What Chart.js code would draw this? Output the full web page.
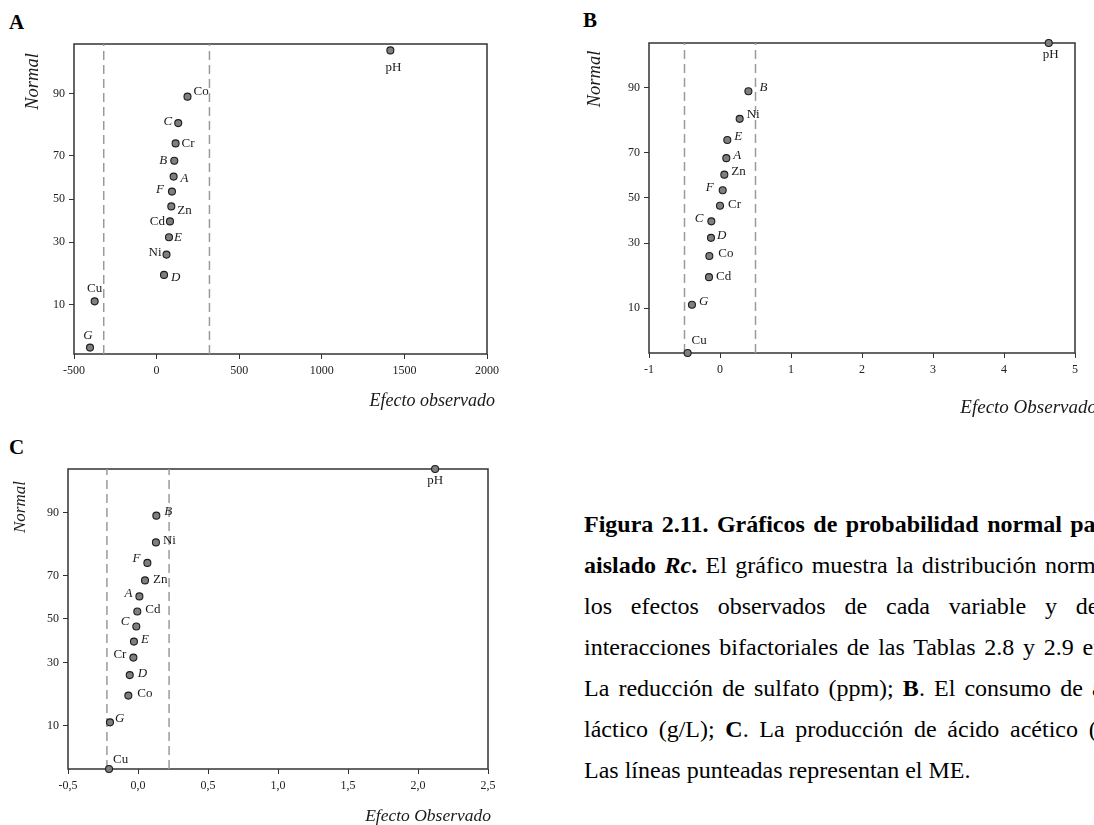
<!DOCTYPE html>
<html lang="es">
<head>
<meta charset="utf-8">
<title>Figura 2.11</title>
<script src="https://cdn.jsdelivr.net/npm/chart.js@4.4.1/dist/chart.umd.min.js"></script>
<style>
  html, body { margin: 0; padding: 0; background: #fff; width: 1094px; height: 825px; overflow: hidden; }
  body { position: relative; font-family: "Liberation Serif", "DejaVu Serif", serif; color: #000; }
  canvas { position: absolute; }
  .letra { position: absolute; font-weight: bold; font-size: 21px; line-height: 21px; }
  #leyenda { position: absolute; left: 584px; top: 504px; width: 560px; font-size: 24px; line-height: 41px; }
  #leyenda div { text-align: justify; text-align-last: justify; }
  #leyenda div.ultima { text-align-last: left; }
</style>
</head>
<body>
<div class="letra" style="left:9px;top:12px">A</div>
<div class="letra" style="left:583px;top:10px">B</div>
<div class="letra" style="left:9px;top:437px">C</div>

<canvas id="graficoA" width="540" height="430" style="left:0;top:0"></canvas>
<canvas id="graficoB" width="534" height="430" style="left:560px;top:0"></canvas>
<canvas id="graficoC" width="540" height="405" style="left:0;top:420px"></canvas>

<div id="leyenda">
  <div><b>Figura 2.11. Gráficos de probabilidad normal para el</b></div>
  <div><b>aislado <i>Rc</i>.</b> El gráfico muestra la distribución normal de</div>
  <div>los efectos observados de cada variable y de las</div>
  <div>interacciones bifactoriales de las Tablas 2.8 y 2.9 en: <b>A</b>.</div>
  <div>La reducción de sulfato (ppm); <b>B</b>. El consumo de ácido</div>
  <div>láctico (g/L); <b>C</b>. La producción de ácido acético (g/L).</div>
  <div class="ultima">Las líneas punteadas representan el ME.</div>
</div>

<script>
// posiciones de probabilidad normal (%) de los 14 efectos, de menor a mayor
var rankPct = [3.57, 10.71, 17.86, 25.0, 32.14, 39.29, 46.43, 53.57, 60.71, 67.86, 75.0, 82.14, 89.29, 96.43];
var yTickLabels = [10, 30, 50, 70, 90];

// A: reduccion de sulfato (ppm)
var namesA = ["G", "Cu", "D", "Ni", "E", "Cd", "Zn", "F", "A", "B", "Cr", "C", "Co", "pH"];
var effectA = [-403, -375, 45, 60, 75, 81, 89, 93, 103, 107, 115, 131, 187, 1415];
var meA = 320;
var xTicksA = [-500, 0, 500, 1000, 1500, 2000];

// B: consumo de acido lactico (g/L)
var namesB = ["Cu", "G", "Cd", "Co", "D", "C", "Cr", "F", "Zn", "A", "E", "Ni", "B", "pH"];
var effectB = [-0.456, -0.395, -0.155, -0.150, -0.127, -0.122, 0.0, 0.038, 0.061, 0.089, 0.103, 0.277, 0.40, 4.63];
var meB = 0.5;
var xTicksB = [-1, 0, 1, 2, 3, 4, 5];

// C: produccion de acido acetico (g/L)
var namesC = ["Cu", "G", "Co", "D", "Cr", "E", "C", "Cd", "A", "Zn", "F", "Ni", "B", "pH"];
var effectC = [-0.207, -0.200, -0.069, -0.059, -0.033, -0.029, -0.012, -0.005, 0.010, 0.050, 0.067, 0.128, 0.131, 2.122];
var meC = 0.222;
var xTicksC = [-0.5, 0, 0.5, 1, 1.5, 2, 2.5];

// donde va cada etiqueta respecto a su punto [dx, dy, alineacion]
var placeA = [[-2,-12,"center"],[0,-13,"center"],[7,3,"left"],[-5,-2,"right"],[5,0,"left"],[-5,0,"right"],[6,4,"left"],
  [-8,-2,"right"],[7,2,"left"],[-7,0,"right"],[6,0,"left"],[-6,-2,"right"],[6,-5,"left"],[3,17,"center"]];
var placeB = [[4,-12,"left"],[7,-3,"left"],[7,-1,"left"],[9,-2,"left"],[6,-2,"left"],[-8,-3,"right"],[8,-1,"left"],
  [-9,-3,"right"],[7,-3,"left"],[7,-3,"left"],[7,-3,"left"],[7,-4,"left"],[11,-4,"left"],[2,12,"center"]];
var placeC = [[4,-9,"left"],[5,-4,"left"],[9,-2,"left"],[8,-2,"left"],[-7,-3,"right"],[7,-2,"left"],[-7,-5,"right"],
  [8,-2,"left"],[-7,-3,"right"],[8,-1,"left"],[-7,-4,"right"],[7,-2,"left"],[8,-4,"left"],[0,12,"center"]];

var SERIF = '"Liberation Serif", "Times New Roman", serif';
Chart.defaults.font.family = SERIF;
var tickFont = { family: SERIF, size: 12 };

// inversa de la normal (Acklam) para el eje de probabilidad
function probit(p) {
  var a = [-39.69683028665376, 220.9460984245205, -275.9285104469687, 138.3577518672690, -30.66479806614716, 2.506628277459239];
  var b = [-54.47609879822406, 161.5858368580409, -155.6989798598866, 66.80131188771972, -13.28068155288572];
  var c = [-7.784894002430293e-03, -0.3223964580411365, -2.400758277161838, -2.549732539343734, 4.374664141464968, 2.938163982698783];
  var d = [7.784695709041462e-03, 0.3224671290700398, 2.445134137142996, 3.754408661907416];
  var pl = 0.02425, q, r;
  if (p < pl) {
    q = Math.sqrt(-2 * Math.log(p));
    return (((((c[0]*q+c[1])*q+c[2])*q+c[3])*q+c[4])*q+c[5]) / ((((d[0]*q+d[1])*q+d[2])*q+d[3])*q+1);
  }
  if (p > 1 - pl) {
    q = Math.sqrt(-2 * Math.log(1 - p));
    return -(((((c[0]*q+c[1])*q+c[2])*q+c[3])*q+c[4])*q+c[5]) / ((((d[0]*q+d[1])*q+d[2])*q+d[3])*q+1);
  }
  q = p - 0.5; r = q * q;
  return (((((a[0]*r+a[1])*r+a[2])*r+a[3])*r+a[4])*r+a[5])*q / (((((b[0]*r+b[1])*r+b[2])*r+b[3])*r+b[4])*r+1);
}

class ProbitScale extends Chart.LinearScale {
  determineDataLimits() {
    this.min = this.options.min;
    this.max = this.options.max;
  }
  buildTicks() {
    return yTickLabels.map(function (v) { return { value: v }; });
  }
  configure() {
    super.configure();
    this._zMin = probit(this.min / 100);
    this._zMax = probit(this.max / 100);
  }
  getPixelForValue(v) {
    return this.getPixelForDecimal((probit(v / 100) - this._zMin) / (this._zMax - this._zMin));
  }
  getValueForPixel(px) {
    var lo = this.min, hi = this.max;
    for (var i = 0; i < 40; i++) {
      var mid = (lo + hi) / 2;
      if ((this.getPixelForValue(mid) - px) * (this.getPixelForValue(lo) - px) > 0) lo = mid; else hi = mid;
    }
    return (lo + hi) / 2;
  }
}
ProbitScale.id = "probit";
ProbitScale.defaults = {};
Chart.register(ProbitScale);

function decor(o) {
  return {
    id: "decor",
    beforeDatasetsDraw: function (chart) {
      var ctx = chart.ctx, a = chart.chartArea;
      ctx.save();
      ctx.strokeStyle = "#333";
      ctx.lineWidth = 1.5;
      ctx.strokeRect(a.left, a.top, a.right - a.left, a.bottom - a.top);
      ctx.restore();
    },
    afterDatasetsDraw: function (chart) {
      var ctx = chart.ctx, a = chart.chartArea, sx = chart.scales.x, sy = chart.scales.y;
      ctx.save();
      ctx.fillStyle = "#1a1a1a";
      ctx.textBaseline = "middle";
      o.names.forEach(function (n, i) {
        var p = o.place[i];
        ctx.font = (/^[A-G]$/.test(n) ? "italic " : "") + "13px " + SERIF;
        ctx.textAlign = p[2];
        ctx.fillText(n, sx.getPixelForValue(o.effect[i]) + p[0], sy.getPixelForValue(rankPct[i]) + p[1]);
      });
      // titulos de los ejes
      ctx.font = "italic " + o.xTitleSize + "px " + SERIF;
      ctx.textAlign = "right";
      ctx.fillText(o.xTitle, a.right + o.xTitleAt[0], a.bottom + o.xTitleAt[1]);
      ctx.font = "italic " + o.yTitleSize + "px " + SERIF;
      ctx.textAlign = "center";
      ctx.translate(a.left + o.yTitleAt[0], a.top + o.yTitleAt[1]);
      ctx.rotate(-Math.PI / 2);
      ctx.fillText("Normal", 0, 0);
      ctx.restore();
    }
  };
}

function panel(id, o) {
  var pts = o.effect.map(function (x, i) { return { x: x, y: rankPct[i] }; });
  var meLine = function (x) {
    return {
      data: [{ x: x, y: o.yMin }, { x: x, y: o.yMax }],
      showLine: true, borderColor: "#9a9a9a", borderWidth: 1.5, borderDash: [9, 5],
      pointRadius: 0, order: 2
    };
  };
  return new Chart(document.getElementById(id), {
    type: "scatter",
    data: {
      datasets: [
        {
          data: pts, pointRadius: 3.5, pointBackgroundColor: "#7f7f7f",
          pointBorderColor: "#1c1c1c", pointBorderWidth: 1.1, clip: false, order: 0
        },
        meLine(-o.me),
        meLine(o.me)
      ]
    },
    options: {
      responsive: false,
      animation: false,
      events: [],
      layout: { padding: o.pad },
      plugins: { legend: { display: false }, tooltip: { enabled: false } },
      scales: {
        x: {
          type: "linear",
          min: o.xTicks[0],
          max: o.xTicks[o.xTicks.length - 1],
          afterBuildTicks: function (s) { s.ticks = o.xTicks.map(function (v) { return { value: v }; }); },
          afterFit: function (s) { s.height = 40; },
          border: { display: false },
          grid: { drawOnChartArea: false, tickLength: 5, color: "#333", lineWidth: 1 },
          ticks: { font: tickFont, color: "#222", padding: 5, maxRotation: 0, autoSkip: false, callback: o.fmt }
        },
        y: {
          type: "probit",
          min: o.yMin,
          max: o.yMax,
          afterFit: function (s) { s.width = o.yWidth; },
          border: { display: false },
          grid: { drawOnChartArea: false, tickLength: 5, color: "#333", lineWidth: 1 },
          ticks: { font: tickFont, color: "#222", padding: 4, autoSkip: false, callback: function (v) { return String(v); } }
        }
      }
    },
    plugins: [decor(o)]
  });
}

panel("graficoA", {
  names: namesA, effect: effectA, me: meA, xTicks: xTicksA, place: placeA,
  yMin: 3.0, yMax: 97.0, yWidth: 74, pad: { left: 0, top: 44, right: 53, bottom: 36 },
  fmt: function (v) { return String(v); },
  xTitle: "Efecto observado", xTitleSize: 18, xTitleAt: [8, 47],
  yTitleSize: 18.5, yTitleAt: [-41, 37.5]
});

panel("graficoB", {
  names: namesB, effect: effectB, me: meB, xTicks: xTicksB, place: placeB,
  yMin: 3.57, yMax: 96.43, yWidth: 89, pad: { left: 0, top: 43, right: 19, bottom: 37 },
  fmt: function (v) { return String(v); },
  xTitle: "Efecto Observado", xTitleSize: 19, xTitleAt: [22, 55],
  yTitleSize: 18.5, yTitleAt: [-54, 36]
});

panel("graficoC", {
  names: namesC, effect: effectC, me: meC, xTicks: xTicksC, place: placeC,
  yMin: 3.57, yMax: 96.43, yWidth: 68, pad: { left: 0, top: 49, right: 52, bottom: 16 },
  fmt: function (v) { return v.toFixed(1).replace(".", ","); },
  xTitle: "Efecto Observado", xTitleSize: 17.5, xTitleAt: [3, 47],
  yTitleSize: 17, yTitleAt: [-47, 38]
});
</script>
</body>
</html>
